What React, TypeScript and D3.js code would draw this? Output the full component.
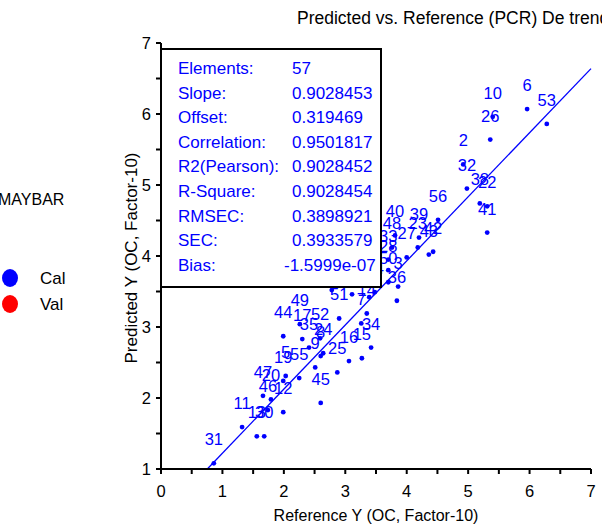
import React from "react";
import * as d3 from "d3";

const sampleIds = [6, 10, 53, 26, 2, 32, 38, 22, 41, 56, 39, 40, 48, 27, 23, 43, 42, 33, 28, 50, 3, 36, 51, 7, 14, 49, 44, 17, 52, 35, 24, 9, 16, 15, 34, 25, 5, 19, 55, 47, 20, 46, 12, 45, 11, 13, 30, 31, 8, 57, 54, 37, 21, 1, 4, 18, 29];
const referenceY = [5.96, 5.4, 6.28, 5.36, 4.92, 4.98, 5.19, 5.31, 5.31, 4.51, 4.2, 3.81, 3.76, 4.0, 4.18, 4.36, 4.43, 3.7, 3.7, 3.7, 3.86, 3.84, 2.9, 3.26, 3.35, 2.26, 1.99, 2.3, 2.59, 2.41, 2.64, 2.51, 3.06, 3.27, 3.42, 2.87, 2.03, 1.99, 2.25, 1.66, 1.79, 1.74, 1.99, 2.6, 1.32, 1.56, 1.68, 0.86, 2.6, 3.11, 3.48, 3.39, 2.78, 3.08, 3.32, 2.91, 3.43];
const predictedY = [6.07, 5.96, 5.86, 5.64, 5.29, 4.95, 4.74, 4.7, 4.33, 4.51, 4.26, 4.29, 4.12, 3.98, 4.12, 4.02, 4.06, 3.95, 3.8, 3.63, 3.57, 3.37, 3.12, 3.05, 3.19, 3.04, 2.87, 2.83, 2.84, 2.71, 2.63, 2.43, 2.52, 2.56, 2.71, 2.36, 2.31, 2.24, 2.28, 2.03, 1.98, 1.83, 1.8, 1.93, 1.59, 1.46, 1.46, 1.08, 2.59, 3.46, 3.49, 3.42, 3.52, 3.91, 4.08, 3.73, 3.73];

const statNames = ["Elements:", "Slope:", "Offset:", "Correlation:", "R2(Pearson):", "R-Square:", "RMSEC:", "SEC:", "Bias:"];
const statValues = ["57", "0.9028453", "0.319469", "0.9501817", "0.9028452", "0.9028454", "0.3898921", "0.3933579", "-1.5999e-07"];
const slope = 0.9028453;
const offset = 0.319469;

const xTicks = [0, 1, 2, 3, 4, 5, 6, 7];
const yTicks = [1, 2, 3, 4, 5, 6, 7];
const legendNames = ["Cal", "Val"];
const legendColors = ["#0000ff", "#ff0000"];

const BLUE = "#0000ff";
const FONT = "'Liberation Sans', Arial, sans-serif";

export default function App() {
  const x = d3.scaleLinear().domain([0, 7]).range([161, 591]);
  const y = d3.scaleLinear().domain([1, 7]).range([469, 43]);
  const minorX = d3.range(0, 7.01, 0.5);
  const minorY = d3.range(1, 7.01, 0.5);

  const x0 = (1 - offset) / slope;
  const line = d3.line<number>().x((v) => x(v)).y((v) => y(slope * v + offset));
  const linePath = line([x0, 7]) || "";

  const boxL = 161, boxT = 49, boxR = 381, boxB = 287;

  return (
    <svg width={602} height={527} style={{ position: "absolute", left: 0, top: 0, background: "#fff" }} fontFamily={FONT}>
      <rect x={0} y={0} width={602} height={527} fill="#fff" />
      <text x={297} y={24} fontSize={17.5} fill="#000">Predicted vs. Reference (PCR) De trend</text>

      {/* legend */}
      <text x={-2} y={205} fontSize={16} fill="#000">MAYBAR</text>
      {legendNames.map((n, i) => (
        <g key={n}>
          <ellipse cx={10} cy={278 + i * 26} rx={8} ry={9} fill={legendColors[i]} />
          <text x={40} y={284 + i * 26} fontSize={17} fill="#000">{n}</text>
        </g>
      ))}

      {/* regression line */}
      <path d={linePath} stroke={BLUE} strokeWidth={1.3} fill="none" />

      {/* points */}
      {referenceY.map((rv, i) => (
        <circle key={"p" + i} cx={x(rv)} cy={y(predictedY[i])} r={2.4} fill={BLUE} />
      ))}
      {referenceY.map((rv, i) => (
        <text key={"t" + i} x={x(rv)} y={y(predictedY[i]) - 18} fontSize={16.5} fill={BLUE} textAnchor="middle">
          {sampleIds[i]}
        </text>
      ))}

      {/* stats box */}
      <rect x={boxL} y={boxT} width={boxR - boxL} height={boxB - boxT} fill="#fff" stroke="#000" strokeWidth={2} />
      {statNames.map((s, i) => (
        <g key={s}>
          <text x={178} y={74 + i * 24.6} fontSize={17} fill={BLUE}>{s}</text>
          <text x={statValues[i].startsWith("-") ? 284 : 292} y={74 + i * 24.6} fontSize={17} fill={BLUE}>{statValues[i]}</text>
        </g>
      ))}

      {/* axes */}
      <line x1={161} x2={591} y1={469} y2={469} stroke="#000" strokeWidth={2} />
      <line x1={161} x2={161} y1={43} y2={470} stroke="#000" strokeWidth={2} />
      {minorX.map((t) => (
        <line key={"xt" + t} x1={x(t)} x2={x(t)} y1={469} y2={474} stroke="#000" strokeWidth={2} />
      ))}
      {minorY.map((t) => (
        <line key={"yt" + t} x1={156} x2={161} y1={y(t)} y2={y(t)} stroke="#000" strokeWidth={2} />
      ))}
      {xTicks.map((t) => (
        <text key={"xl" + t} x={x(t)} y={497} fontSize={16.5} textAnchor="middle" fill="#000">{t}</text>
      ))}
      {yTicks.map((t) => (
        <text key={"yl" + t} x={151} y={y(t) + 6} fontSize={16.5} textAnchor="end" fill="#000">{t}</text>
      ))}
      <text x={376} y={521} fontSize={16} textAnchor="middle" fill="#000">Reference Y (OC, Factor-10)</text>
      <text transform={`translate(137,258) rotate(-90)`} fontSize={17} textAnchor="middle" fill="#000">Predicted Y (OC, Factor-10)</text>
    </svg>
  );
}
